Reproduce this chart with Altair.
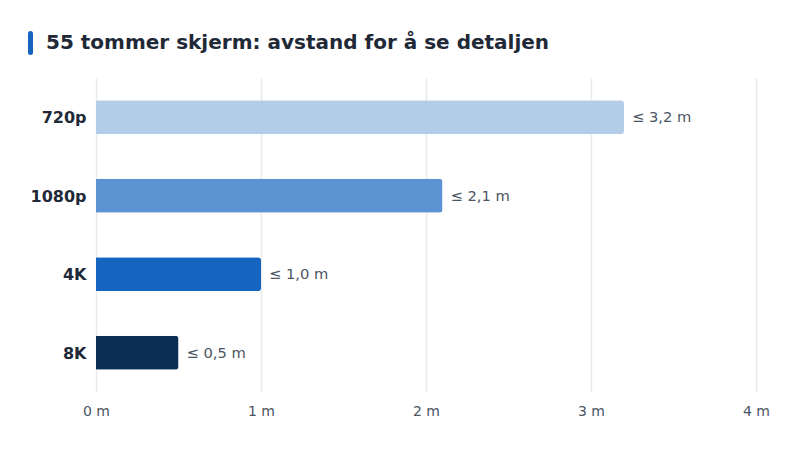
import altair as alt
import pandas as pd

# Data
resolutions = ['720p', '1080p', '4K', '8K']
distances = [3.2, 2.1, 1.0, 0.5]
labels = ['≤ 3,2 m', '≤ 2,1 m', '≤ 1,0 m', '≤ 0,5 m']
colors = ['#b3cde9', '#5b93d2', '#1565c0', '#0b2e55']
x_ticks = [0, 1, 2, 3, 4]
title = '55 tommer skjerm: avstand for å se detaljen'

FONT = 'DejaVu Sans'

df = pd.DataFrame({'res': resolutions, 'dist': distances, 'label': labels})

y_enc = alt.Y('res:N', sort=resolutions, title=None,
              scale=alt.Scale(paddingInner=0.567, paddingOuter=0.2835),
              axis=alt.Axis(labelFont=FONT, labelFontSize=16, labelFontWeight='bold',
                            labelColor='#1f2937', labelPadding=10, labelOffset=1,
                            domain=False, ticks=False, grid=False))
x_enc = alt.X('dist:Q', title=None,
              scale=alt.Scale(domain=[0, 4], nice=False),
              axis=alt.Axis(values=x_ticks, labelExpr="datum.value + ' m'",
                            labelFont=FONT, labelFontSize=14, labelColor='#4b5563',
                            labelPadding=12, labelFlush=False, domain=False, ticks=False,
                            grid=True, gridColor='#e9eaec', gridWidth=1.5))

bars = alt.Chart(df).mark_bar(cornerRadiusTopRight=3, cornerRadiusBottomRight=3).encode(
    x=x_enc,
    y=y_enc,
    color=alt.Color('res:N', scale=alt.Scale(domain=resolutions, range=colors), legend=None)
)

text = alt.Chart(df).mark_text(align='left', dx=8, dy=1, font=FONT, fontSize=14.7,
                               color='#4b5563').encode(
    x='dist:Q',
    y=alt.Y('res:N', sort=resolutions),
    text='label:N'
)

# title drawn as text, with a small accent bar next to it
title_df = pd.DataFrame({'t': [title]})
heading = alt.Chart(title_df).mark_text(align='left', baseline='middle', font=FONT,
                                        fontSize=20, fontWeight='bold',
                                        color='#1f2937').encode(
    x=alt.value(-50), y=alt.value(-35), text='t:N'
)
accent = alt.Chart(title_df).mark_rule(color='#1565c0', strokeWidth=5,
                                       strokeCap='round').encode(
    x=alt.value(-65.5), y=alt.value(-44.5), y2=alt.value(-25.5)
)

chart = (accent + heading + bars + text).properties(
    width=660, height=314,
    autosize=alt.AutoSizeParams(type='none'),
    padding={'left': 88, 'top': 70, 'right': 36, 'bottom': 40}
).configure(background='white').configure_view(strokeWidth=0)

chart.save("out.html", embed_options={"renderer": "svg", "actions": False})
